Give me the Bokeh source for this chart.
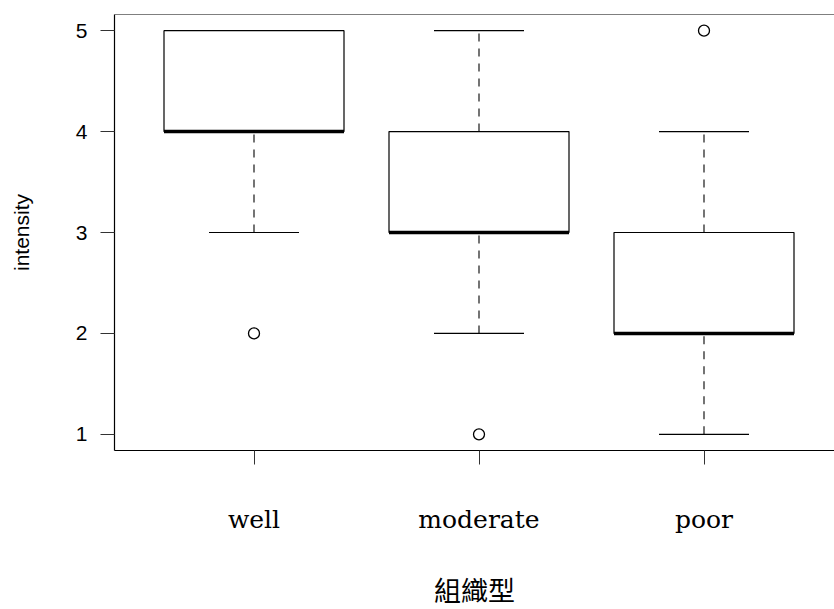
from bokeh.plotting import figure
from bokeh.models import FixedTicker, Span
from bokeh.embed import file_html
from bokeh.resources import INLINE

# ---- data ----
groups = ["well", "moderate", "poor"]
lower_whisker = [3, 2, 1]
q1 = [4, 3, 2]
median = [4, 3, 2]
q3 = [5, 4, 3]
upper_whisker = [5, 5, 4]
outlier_groups = ["well", "moderate", "poor"]
outlier_values = [2, 1, 5]
y_ticks = [1, 2, 3, 4, 5]
y_label = "intensity"
x_label = "組織型"

pos = {g: i + 1 for i, g in enumerate(groups)}
xs = [pos[g] for g in groups]
box_half = 0.4
staple_half = 0.2

p = figure(width=834, height=609, output_backend="svg", toolbar_location=None,
           x_range=(0.38, 3.58), y_range=(0.84, 5.16),
           min_border_left=114, min_border_right=0, min_border_top=14, min_border_bottom=159)
p.xgrid.visible = False
p.ygrid.visible = False
p.outline_line_color = None
p.background_fill_color = "white"
p.border_fill_color = "white"

# whiskers (dashed)
p.segment(x0=xs, y0=q3, x1=xs, y1=upper_whisker, line_color="black", line_width=1.1, line_dash="8 7")
p.segment(x0=xs, y0=lower_whisker, x1=xs, y1=q1, line_color="black", line_width=1.1, line_dash="8 7")
# staples
p.segment(x0=[x - staple_half for x in xs], y0=upper_whisker,
          x1=[x + staple_half for x in xs], y1=upper_whisker, line_color="black", line_width=1.2)
p.segment(x0=[x - staple_half for x in xs], y0=lower_whisker,
          x1=[x + staple_half for x in xs], y1=lower_whisker, line_color="black", line_width=1.2)
# boxes
p.quad(left=[x - box_half for x in xs], right=[x + box_half for x in xs], bottom=q1, top=q3,
       fill_color="white", line_color="black", line_width=1.2)
# medians
p.segment(x0=[x - box_half for x in xs], y0=median,
          x1=[x + box_half for x in xs], y1=median, line_color="black", line_width=3.5)
# outliers
p.scatter(x=[pos[g] for g in outlier_groups], y=outlier_values, marker="circle", size=11,
          fill_color=None, line_color="black", line_width=1.3)

# top frame line
p.add_layout(Span(location=5.16, dimension="width", line_color="black", line_width=1.2))

# axes
xa = p.xaxis[0]
xa.ticker = FixedTicker(ticks=xs)
xa.major_label_overrides = {pos[g]: g for g in groups}
xa.minor_tick_line_color = None
xa.major_tick_out = 14
xa.major_tick_in = 0
xa.axis_line_color = "black"
xa.axis_line_width = 1.2
xa.major_tick_line_color = "#333333"
xa.major_label_text_font = "DejaVu Serif"
xa.major_label_text_font_size = "25px"
xa.major_label_text_color = "black"
xa.major_label_standoff = 40
xa.axis_label = x_label
xa.axis_label_text_font = "Liberation Sans, Noto Sans CJK TC"
xa.axis_label_text_font_style = "normal"
xa.axis_label_text_font_size = "27px"
xa.axis_label_text_color = "black"
xa.axis_label_standoff = 40

ya = p.yaxis[0]
ya.ticker = FixedTicker(ticks=y_ticks)
ya.minor_tick_line_color = None
ya.major_tick_out = 14
ya.major_tick_in = 0
ya.axis_line_color = "black"
ya.axis_line_width = 1.2
ya.major_tick_line_color = "#333333"
ya.major_label_text_font = "Liberation Sans"
ya.major_label_text_font_size = "21px"
ya.major_label_text_color = "black"
ya.major_label_standoff = 13
ya.major_label_orientation = "horizontal"
ya.axis_label = y_label
ya.axis_label_text_font = "Liberation Sans"
ya.axis_label_text_font_style = "normal"
ya.axis_label_text_font_size = "21px"
ya.axis_label_text_color = "black"
ya.axis_label_standoff = 40

open("out.html", "w").write(file_html(p, INLINE))
